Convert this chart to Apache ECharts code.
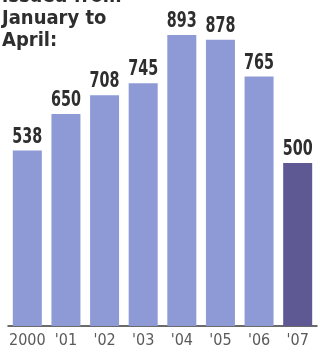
<!DOCTYPE html>
<html>
<head>
<meta charset="utf-8">
<script src="https://cdn.jsdelivr.net/npm/echarts@6/dist/echarts.min.js"></script>
<style>html,body{margin:0;padding:0;background:#fff}#c{width:327px;height:354px}</style>
</head>
<body>
<div id="c"></div>
<script>
var categories = ['2000', "'01", "'02", "'03", "'04", "'05", "'06", "'07"];
var values = [538, 650, 708, 745, 893, 878, 765, 500];
var titleText = 'issued from\nJanuary to\nApril:';

var FONT = "'DejaVu Sans Condensed', 'DejaVu Sans', sans-serif";
var chart = echarts.init(document.getElementById('c'), null, {renderer: 'canvas'});
chart.setOption({
  animation: false,
  backgroundColor: '#ffffff',
  title: {
    text: titleText,
    left: 2,
    top: -14,
    padding: 0,
    textStyle: {fontFamily: FONT, fontSize: 20, fontWeight: 'bold', color: '#2e2e2e', lineHeight: 22}
  },
  grid: {left: 8, right: 10, top: 0, bottom: 28, containLabel: false},
  xAxis: {
    type: 'category',
    data: categories,
    axisLine: {lineStyle: {color: '#3a3a3a', width: 1.5}},
    axisTick: {show: false},
    axisLabel: {interval: 0, fontFamily: FONT, fontSize: 16, color: '#5a5a5a', margin: 7}
  },
  yAxis: {type: 'value', min: 0, max: 1000, show: false, splitLine: {show: false}},
  series: [{
    type: 'bar',
    data: values.map(function (v, i) {
      return {value: v, itemStyle: {color: i === values.length - 1 ? '#5e5893' : '#8d9ad6'}};
    }),
    barWidth: 29
  }, {
    type: 'custom',
    data: values.map(function (v, i) { return [i, v]; }),
    renderItem: function (params, api) {
      var p = api.coord([api.value(0), api.value(1)]);
      return {
        type: 'text',
        x: p[0],
        y: p[1] - 3,
        scaleX: 0.76,
        style: {
          text: String(api.value(1)),
          fontFamily: FONT, fontSize: 21, fontWeight: 'bold', fill: '#2e2e2e',
          align: 'center', verticalAlign: 'bottom'
        }
      };
    }
  }]
});
</script>
</body>
</html>
